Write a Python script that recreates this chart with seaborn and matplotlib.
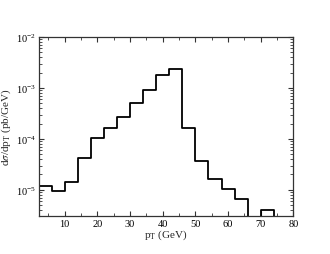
import numpy as np
import matplotlib
matplotlib.use("Agg")
import matplotlib.pyplot as plt
from matplotlib.ticker import MultipleLocator, LogLocator, NullFormatter
import seaborn as sns

# bin edges (GeV) and differential cross section per bin (pb/GeV)
edges = [2, 6, 10, 14, 18, 22, 26, 30, 34, 38, 42, 46, 50, 54, 58, 62, 66, 70, 74, 78]
dsigma = [1.2e-5, 9.3e-6, 1.45e-5, 4.3e-5, 1.05e-4, 1.6e-4, 2.65e-4, 5.0e-4, 9.1e-4,
          1.8e-3, 2.4e-3, 1.6e-4, 3.6e-5, 1.6e-5, 1.03e-5, 6.6e-6, 0.0, 4.1e-6, 0.0]

centers = [(a + b) / 2 for a, b in zip(edges[:-1], edges[1:])]

sns.set_style("ticks")
plt.rcParams['font.family'] = ['Liberation Serif', 'DejaVu Serif']
plt.rcParams['mathtext.fontset'] = 'stix'

fig = plt.figure(figsize=(3.3, 2.55), dpi=100)
ax = fig.add_axes([0.117, 0.150, 0.772, 0.701])

sns.histplot(x=centers, weights=dsigma, bins=edges, element="step", fill=False,
             color="black", linewidth=1.3, ax=ax)

ax.set_yscale("log")
ax.set_xlim(2, 80)
ax.set_ylim(3.1e-6, 1e-2)

ax.xaxis.set_major_locator(MultipleLocator(10))
ax.xaxis.set_minor_locator(MultipleLocator(5))
ax.yaxis.set_major_locator(LogLocator(base=10))
ax.yaxis.set_minor_locator(LogLocator(base=10, subs=np.arange(2, 10)))
ax.yaxis.set_minor_formatter(NullFormatter())

ax.tick_params(which="both", direction="in", top=True, right=True,
               labelsize=7.5, colors="#333333", labelcolor="black")
ax.tick_params(which="major", length=3.5, width=0.8, pad=2)
ax.tick_params(which="minor", length=2, width=0.6)
for s in ax.spines.values():
    s.set_linewidth(0.9)
    s.set_color("#333333")

ax.set_xlabel(r"p$_{\rm T}$ (GeV)", fontsize=8, labelpad=0)
ax.set_ylabel(r"d$\sigma$/dp$_{\rm T}$ (pb/GeV)", fontsize=8, labelpad=2)

fig.savefig("out.png", dpi=100)
